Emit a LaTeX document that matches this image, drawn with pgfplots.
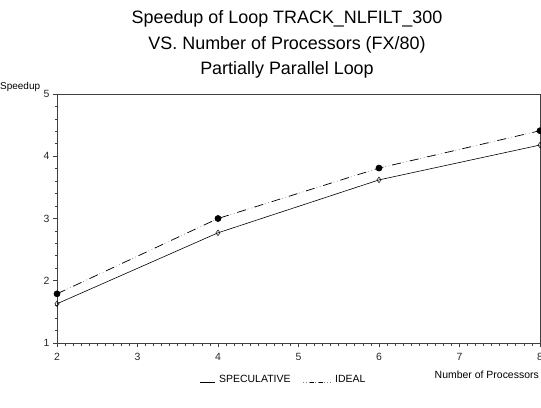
\documentclass[border=0pt]{standalone}
\usepackage{pgfplots}
\pgfplotsset{compat=1.18}
\usepackage{fontspec}
\setmainfont{Liberation Sans}
\begin{document}
\begin{tikzpicture}[x=1bp,y=1bp]
\useasboundingbox (0,0) rectangle (541,407);
\begin{axis}[
  at={(57bp,64bp)}, anchor=south west,
  scale only axis, width=483bp, height=249bp,
  xmin=2, xmax=8, ymin=1, ymax=5,
  xtick={2,3,4,5,6,7,8}, ytick={1,2,3,4,5},
  minor x tick num=9, minor y tick num=4,
  tick align=outside, tick pos=left,
  major tick length=4bp, minor tick length=2.5bp,
  axis line style={line width=0.9pt, draw=black!75},
  every tick/.style={line width=0.8pt, black!75},
  ticklabel style={font=\fontsize{10.5}{11}\selectfont, text=black!85},
  /pgf/number format/assume math mode=true,
  xticklabel style={yshift=-3bp},
  clip=false,
]
\addplot[black, line width=0.6pt, mark=diamond, mark size=2.8bp, mark options={solid, fill=white, line width=0.5pt}]
  coordinates {(2,1.63) (4,2.77) (6,3.62) (8,4.18)};
\addplot[black!50, line width=0.6pt, dash pattern=on 0.8bp off 2.8bp]
  coordinates {(2,1.79) (4,3.0) (6,3.81) (8,4.41)};
\addplot[black, line width=0.7pt, dash pattern=on 9bp off 9bp, mark=*, mark size=3bp, mark options={solid, fill=black}]
  coordinates {(2,1.79) (4,3.0) (6,3.81) (8,4.41)};
\end{axis}
\node[anchor=base, font=\fontsize{18}{20}\selectfont] at (287,384) {Speedup of Loop TRACK\_NLFILT\_300};
\node[anchor=base, font=\fontsize{18}{20}\selectfont] at (287,358) {VS. Number of Processors (FX/80)};
\node[anchor=base, font=\fontsize{18}{20}\selectfont] at (287,333) {Partially Parallel Loop};
\node[anchor=base west, font=\fontsize{10}{11}\selectfont, inner sep=0pt] at (0,318) {Speedup};
\node[anchor=base east, font=\fontsize{10.5}{11}\selectfont, inner sep=0pt] at (539,29) {Number of Processors};
\draw[black, line width=0.6pt] (200,25) -- (215,25);
\node[anchor=base west, font=\fontsize{10.5}{11}\selectfont, inner sep=0pt] at (219,25) {SPECULATIVE};
\draw[black!50, line width=0.6pt, dash pattern=on 0.8bp off 2.2bp] (303,25) -- (332,25);
\draw[black, line width=0.6pt, dash pattern=on 0pt off 7bp on 4bp off 5bp on 4bp off 20bp] (303,25) -- (332,25);
\node[anchor=base west, font=\fontsize{10.5}{11}\selectfont, inner sep=0pt] at (335,25) {IDEAL};
\end{tikzpicture}
\end{document}
